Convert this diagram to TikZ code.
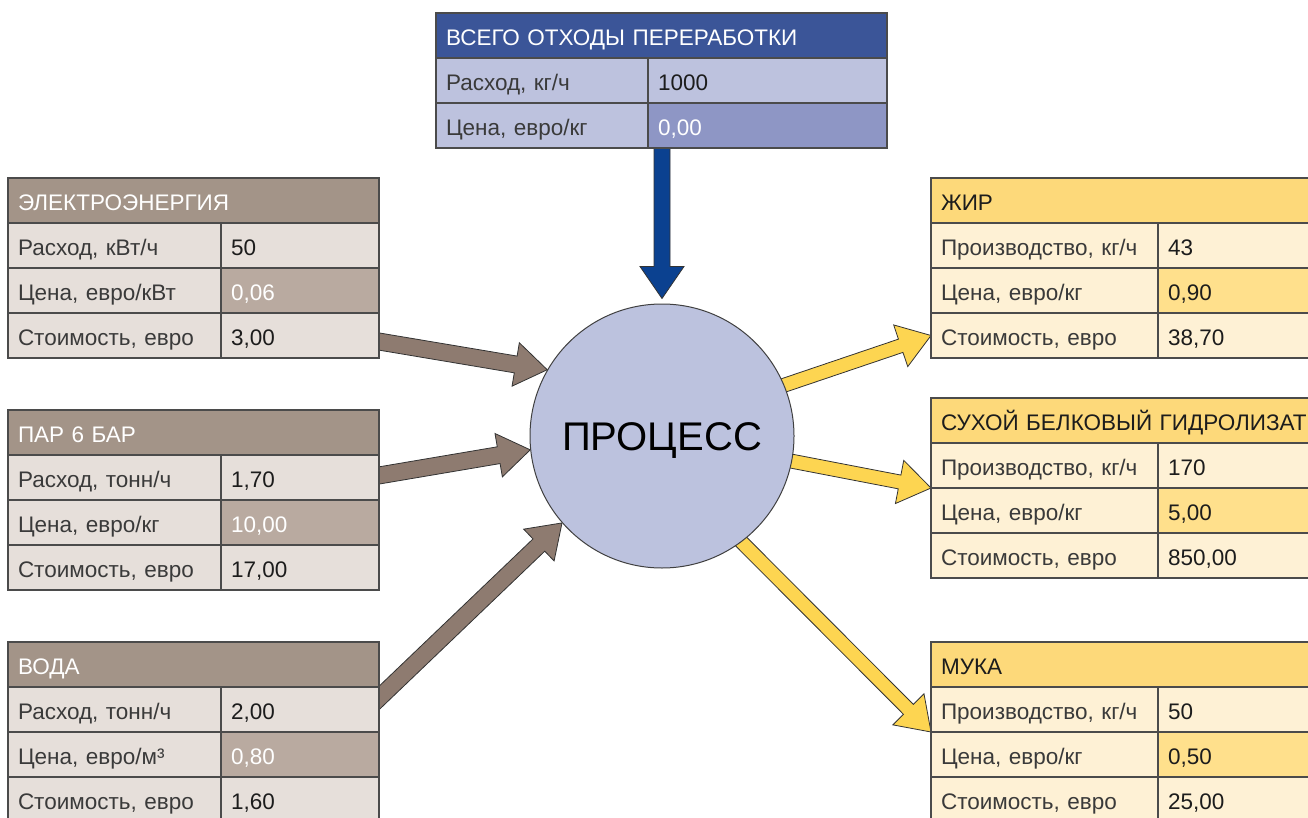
\documentclass[tikz,border=0pt]{standalone}
\usepackage{fontspec}
\setmainfont{Liberation Sans}
\usetikzlibrary{positioning,calc}

\definecolor{gridline}{HTML}{4B4B4B}
\definecolor{labeltext}{HTML}{3A3A3A}
\definecolor{valtext}{HTML}{1C1C1C}
\definecolor{bluehead}{HTML}{3B5598}
\definecolor{bluelight}{HTML}{BDC2DE}
\definecolor{bluemid}{HTML}{8E96C5}
\definecolor{bluearrow}{HTML}{0B4190}
\definecolor{brownhead}{HTML}{A39488}
\definecolor{brownlight}{HTML}{E6DFDA}
\definecolor{brownmid}{HTML}{B9AAA0}
\definecolor{brownarrow}{HTML}{8E7B70}
\definecolor{yellowhead}{HTML}{FDD97A}
\definecolor{yellowlight}{HTML}{FEF1D5}
\definecolor{yellowmid}{HTML}{FFE08C}
\definecolor{yellowarrow}{HTML}{FDD551}
\definecolor{procfill}{HTML}{BCC2DE}

\pgfdeclarelayer{background}
\pgfsetlayers{background,main}

% block arrow: from, to, fill colour, half width of the shaft
\newcommand{\flowarrow}[4]{%
  \coordinate (head) at ($(#2)!32pt!(#1)$);
  \draw[arrowline, fill=#3] ($(#1)!#4!-90:(#2)$) -- ($(head)!#4!90:(#1)$)
    -- ($(head)!22pt!90:(#1)$) -- (#2) -- ($(head)!22pt!-90:(#1)$)
    -- ($(head)!#4!-90:(#1)$) -- ($(#1)!#4!90:(#2)$) -- cycle;}

\begin{document}
\begin{tikzpicture}[x=1pt, y=-1pt,
    every node/.style={font=\fontsize{22.5}{26}\selectfont},
    cell/.style={draw=gridline, line width=1.2pt, outer sep=0pt, minimum height=45pt,
      inner xsep=10pt, inner ysep=0pt, text height=20pt, text depth=0pt, align=left},
    thead/.style={cell, text width=431pt, fill=bluehead, text=white},
    tlab/.style={cell, text width=192pt, fill=bluelight, text=labeltext},
    tval/.style={cell, text width=219pt, fill=bluelight, text=valtext},
    tprice/.style={tval, fill=bluemid, text=white},
    lhead/.style={cell, text width=351pt, fill=brownhead, text=white},
    llab/.style={cell, text width=193pt, fill=brownlight, text=labeltext},
    lval/.style={cell, text width=138pt, fill=brownlight, text=valtext},
    lprice/.style={lval, fill=brownmid, text=white},
    rhead/.style={cell, text width=369pt, fill=yellowhead, text=valtext},
    rlab/.style={cell, text width=207pt, fill=yellowlight, text=labeltext},
    rval/.style={cell, text width=142pt, fill=yellowlight, text=valtext},
    rprice/.style={rval, fill=yellowmid},
    arrowline/.style={draw=black!80, line width=0.8pt, line join=miter}]
\useasboundingbox (0,0) rectangle (1308,818);

% process
\node[circle, minimum size=264pt, fill=procfill, draw=black!75, line width=1pt,
  text height=29pt, text depth=0pt, inner sep=0pt,
  font=\fontsize{40}{46}\selectfont] (proc) at (662,436) {ПРОЦЕСС};

% waste input
\node[thead, anchor=north west] (wst-h) at (436,13) {ВСЕГО ОТХОДЫ ПЕРЕРАБОТКИ};
\node[tlab, below=0pt of wst-h.south west, anchor=north west] (wst-l1) {Расход, кг/ч};
\node[tval, right=0pt of wst-l1] (wst-v1) {1000};
\node[tlab, below=0pt of wst-l1] (wst-l2) {Цена, евро/кг};
\node[tprice, right=0pt of wst-l2] (wst-v2) {0,00};

% utilities
\node[lhead, anchor=north west] (el-h) at (8,178) {ЭЛЕКТРОЭНЕРГИЯ};
\node[llab, below=0pt of el-h.south west, anchor=north west] (el-l1) {Расход, кВт/ч};
\node[lval, right=0pt of el-l1] (el-v1) {50};
\node[llab, below=0pt of el-l1] (el-l2) {Цена, евро/кВт};
\node[lprice, right=0pt of el-l2] (el-v2) {0,06};
\node[llab, below=0pt of el-l2] (el-l3) {Стоимость, евро};
\node[lval, right=0pt of el-l3] (el-v3) {3,00};

\node[lhead, anchor=north west] (st-h) at (8,410) {ПАР 6 БАР};
\node[llab, below=0pt of st-h.south west, anchor=north west] (st-l1) {Расход, тонн/ч};
\node[lval, right=0pt of st-l1] (st-v1) {1,70};
\node[llab, below=0pt of st-l1] (st-l2) {Цена, евро/кг};
\node[lprice, right=0pt of st-l2] (st-v2) {10,00};
\node[llab, below=0pt of st-l2] (st-l3) {Стоимость, евро};
\node[lval, right=0pt of st-l3] (st-v3) {17,00};

\node[lhead, anchor=north west] (wt-h) at (8,642) {ВОДА};
\node[llab, below=0pt of wt-h.south west, anchor=north west] (wt-l1) {Расход, тонн/ч};
\node[lval, right=0pt of wt-l1] (wt-v1) {2,00};
\node[llab, below=0pt of wt-l1] (wt-l2) {Цена, евро/м³};
\node[lprice, right=0pt of wt-l2] (wt-v2) {0,80};
\node[llab, below=0pt of wt-l2] (wt-l3) {Стоимость, евро};
\node[lval, right=0pt of wt-l3] (wt-v3) {1,60};

% products
\node[rhead, anchor=north west] (fat-h) at (931,178) {ЖИР};
\node[rlab, below=0pt of fat-h.south west, anchor=north west] (fat-l1) {Производство, кг/ч};
\node[rval, right=0pt of fat-l1] (fat-v1) {43};
\node[rlab, below=0pt of fat-l1] (fat-l2) {Цена, евро/кг};
\node[rprice, right=0pt of fat-l2] (fat-v2) {0,90};
\node[rlab, below=0pt of fat-l2] (fat-l3) {Стоимость, евро};
\node[rval, right=0pt of fat-l3] (fat-v3) {38,70};

\node[rhead, anchor=north west] (hyd-h) at (931,398) {СУХОЙ БЕЛКОВЫЙ ГИДРОЛИЗАТ};
\node[rlab, below=0pt of hyd-h.south west, anchor=north west] (hyd-l1) {Производство, кг/ч};
\node[rval, right=0pt of hyd-l1] (hyd-v1) {170};
\node[rlab, below=0pt of hyd-l1] (hyd-l2) {Цена, евро/кг};
\node[rprice, right=0pt of hyd-l2] (hyd-v2) {5,00};
\node[rlab, below=0pt of hyd-l2] (hyd-l3) {Стоимость, евро};
\node[rval, right=0pt of hyd-l3] (hyd-v3) {850,00};

\node[rhead, anchor=north west] (fl-h) at (931,642) {МУКА};
\node[rlab, below=0pt of fl-h.south west, anchor=north west] (fl-l1) {Производство, кг/ч};
\node[rval, right=0pt of fl-l1] (fl-v1) {50};
\node[rlab, below=0pt of fl-l1] (fl-l2) {Цена, евро/кг};
\node[rprice, right=0pt of fl-l2] (fl-v2) {0,50};
\node[rlab, below=0pt of fl-l2] (fl-l3) {Стоимость, евро};
\node[rval, right=0pt of fl-l3] (fl-v3) {25,00};

% arrow ends hidden under the tables and the circle
\coordinate (wst-out) at ($(wst-l2.south -| proc.north)+(0,-6)$);
\coordinate (wst-in) at ($(proc.north)+(0,-5)$);
\coordinate (el-out) at ($(el-v3.east)+(-12,4)$);
\coordinate (st-out) at ($(st-v1.east)+(-12,0)$);
\coordinate (wt-out) at ($(wt-v1.east)+(-12,0)$);
\coordinate (fat-in) at ($(proc.center)!0.9!(proc.23)$);
\coordinate (hyd-in) at ($(proc.center)!0.9!(proc.-11)$);
\coordinate (fl-in) at ($(proc.center)!0.9!(proc.-54)$);

\begin{pgfonlayer}{background}
\flowarrow{wst-out}{wst-in}{bluearrow}{8pt}
\flowarrow{el-out}{proc.150}{brownarrow}{8.5pt}
\flowarrow{st-out}{proc.186}{brownarrow}{8.5pt}
\flowarrow{wt-out}{proc.221}{brownarrow}{8.5pt}
\flowarrow{fat-in}{fat-l3.west}{yellowarrow}{7pt}
\flowarrow{hyd-in}{hyd-l1.south west}{yellowarrow}{7pt}
\flowarrow{fl-in}{fl-l1.south west}{yellowarrow}{7pt}
\end{pgfonlayer}
\end{tikzpicture}
\end{document}
